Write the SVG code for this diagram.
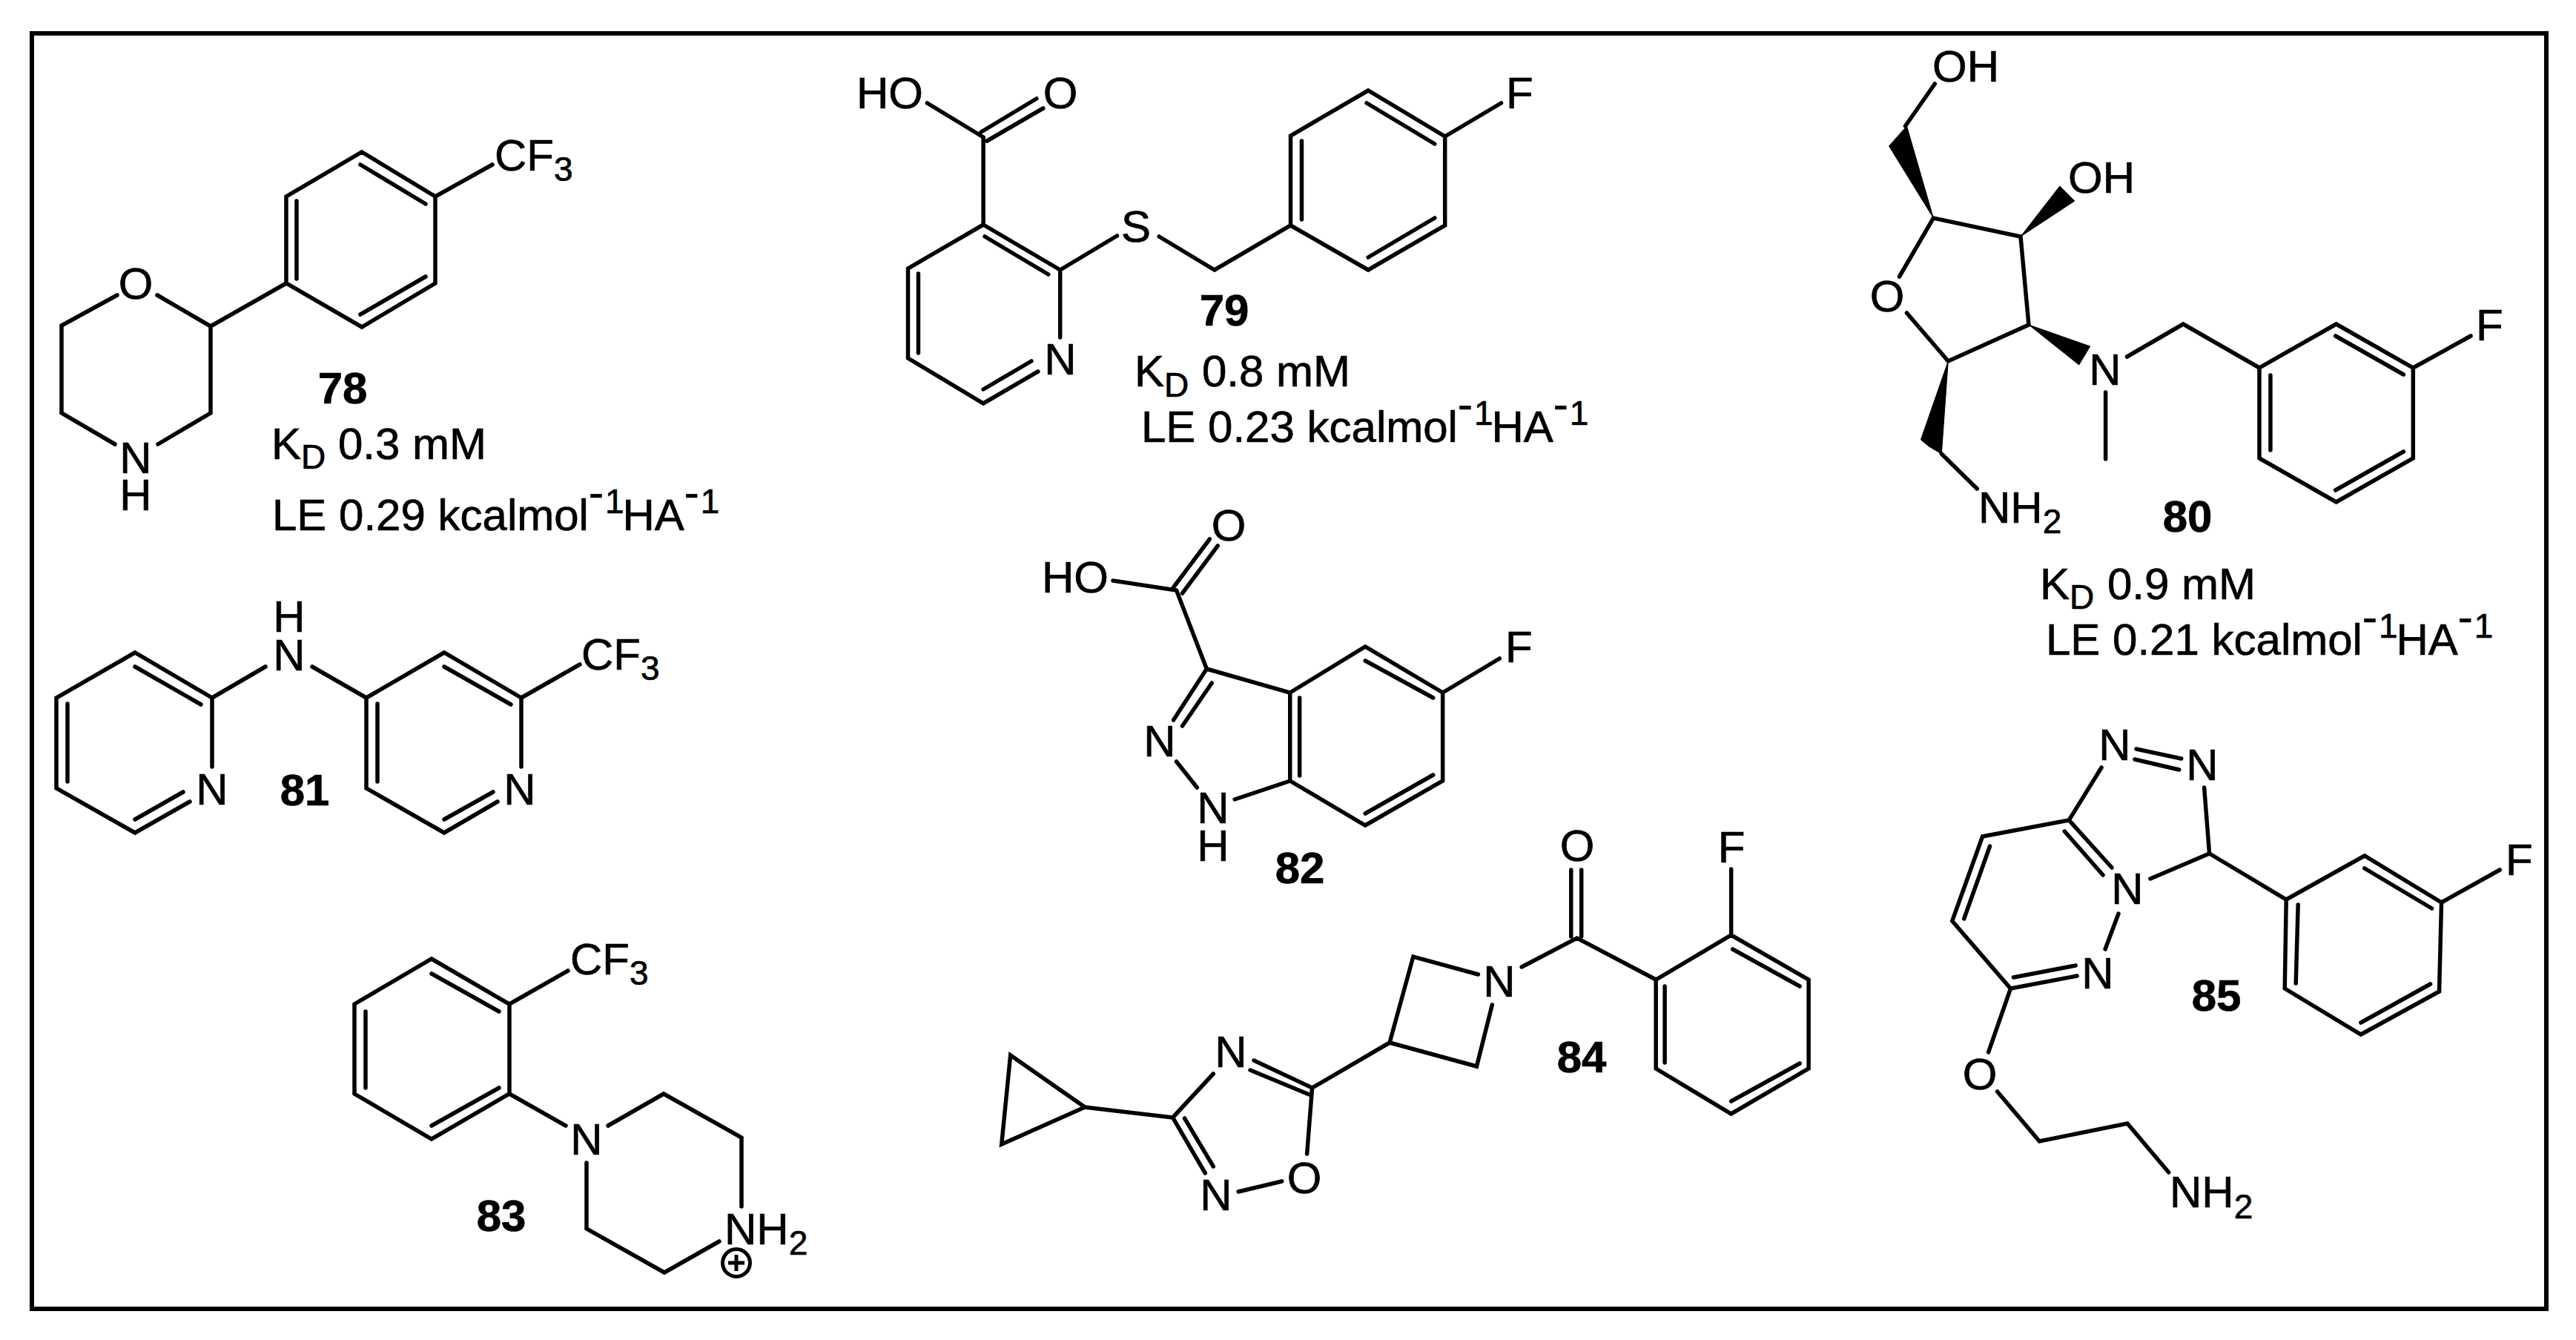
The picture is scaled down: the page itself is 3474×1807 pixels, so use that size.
<svg xmlns="http://www.w3.org/2000/svg" width="3474" height="1807" viewBox="0 0 3474 1807">
<style>
text{font-family:"Liberation Sans",Arial,sans-serif;font-size:60px;fill:#000;stroke:#000;stroke-width:.7}
.a{text-anchor:middle}
.n{font-weight:bold;text-anchor:middle}
.s{font-size:46px}
.b{fill:none;stroke:#000;stroke-width:5.5;stroke-linecap:round;stroke-linejoin:miter}
.w{fill:#000;stroke:#000;stroke-width:1}
</style>
<rect width="3474" height="1807" fill="#fff"/>
<rect x="43" y="45" width="3391" height="1720" fill="none" stroke="#000" stroke-width="6"/>

<g id="compound-78">
<path class="b" d="M488 205L587 265L587 382L488 441L386 382L386 265ZM486 222L574 275M400 271L400 376M486 424L574 373M587 265L664 222M386 382L284 440L212 398M158 398L83 439L83 557L155 599M284 440L284 557L213 599"/>
<text x="667" y="230">CF<tspan class="s" dy="14">3</tspan></text>
<text class="a" x="183" y="403">O</text>
<text class="a" x="183" y="638">N<tspan x="183" dy="50">H</tspan></text>
<text class="n" x="462" y="544">78</text>
<text x="366" y="619">K<tspan class="s" dy="13">D</tspan></text><text x="456" y="619">0.3 mM</text>
<text x="367" y="715">LE 0.29 kcalmol<tspan dy="-31">-</tspan><tspan class="s" dx="2" dy="8">1</tspan><tspan dx="-2" dy="23">HA</tspan><tspan dy="-31">-</tspan><tspan class="s" dx="2" dy="8">1</tspan></text>
</g>

<g id="compound-79">
<path class="b" transform="matrix(.99614 0 0 1 4.25 0)" d="M1251 139L1327 185M1324 178L1399 133M1332 190L1408 146M1327 185L1327 303L1431 364L1431 455M1327 303L1225 362L1225 483L1327 544L1401 501M1327 525L1392 487M1239 369L1239 476M1329 319L1415 370M1431 364L1508 318M1565 319L1640 364L1743 304L1743 183L1848 122L1952 184L1952 304L1848 364L1743 304M1758 190L1758 296M1846 139L1938 194M1938 294L1848 347M1952 184L2028 139"/>
<text x="1155" y="146">HO</text>
<text class="a" x="1430" y="146">O</text>
<text class="a" x="1430" y="505">N</text>
<text class="a" x="1532" y="326">S</text>
<text x="2031" y="146">F</text>
<text class="n" x="1651" y="439">79</text>
<text x="1530" y="521">K<tspan class="s" dy="14">D</tspan></text><text x="1621" y="521">0.8 mM</text>
<text x="1539" y="596">LE 0.23 kcalmol<tspan dy="-31">-</tspan><tspan class="s" dx="2" dy="8">1</tspan><tspan dx="-2" dy="23">HA</tspan><tspan dy="-31">-</tspan><tspan class="s" dx="2" dy="8">1</tspan></text>
</g>

<g id="compound-80">
<g transform="matrix(.99688 0 0 1 7.49 0)">
<polygon class="w" points="2608,294 2572,170 2548,197"/>
<polygon class="w" points="2726,319 2779,251 2799,271"/>
<polygon class="w" points="2737,438 2820,467 2805,492"/>
<polygon class="w" points="2628,487 2591,593 2602,602 2619,612"/>
<path class="b" d="M2610 113L2570 170M2562 373L2608 294L2726 319L2737 438L2628 487L2572 422M2619 612L2667 659M2841 529L2841 619M2870 481L2946 437L3049 496L3153 437L3257 496L3257 618L3153 677L3049 618L3049 496M3152 453L3244 505M3064 506L3064 607M3244 609L3152 661M3257 496L3335 453"/>
</g>
<text x="2606" y="110">OH</text>
<text x="2789" y="260">OH</text>
<text class="a" x="2545" y="420">O</text>
<text class="a" x="2839" y="519">N</text>
<text x="3339" y="459">F</text>
<text x="2668" y="705">NH<tspan class="s" dy="14">2</tspan></text>
<text class="n" x="2950" y="717">80</text>
<text x="2751" y="808">K<tspan class="s" dy="13">D</tspan></text><text x="2842" y="808">0.9 mM</text>
<text x="2759" y="883">LE 0.21 kcalmol<tspan dy="-31">-</tspan><tspan class="s" dx="2" dy="8">1</tspan><tspan dx="-2" dy="23">HA</tspan><tspan dy="-31">-</tspan><tspan class="s" dx="2" dy="8">1</tspan></text>
</g>

<g id="compound-81">
<path class="b" d="M286 941L182 880L76 941L76 1063L182 1123L256 1081M182 1105L247 1068M286 941L286 1034M182 899L271 950M91 949L91 1054M286 941L358 899M421 899L494 941L599 880L703 941L703 1034M494 941L494 1063L599 1123L671 1081M599 1105L665 1068M599 899L689 950M509 949L509 1054M703 941L782 896"/>
<text class="a" x="286" y="1085">N</text>
<text class="a" x="390" y="852">H<tspan x="390" dy="52">N</tspan></text>
<text class="a" x="701" y="1085">N</text>
<text x="784" y="903">CF<tspan class="s" dy="14">3</tspan></text>
<text class="n" x="411" y="1086">81</text>
</g>

<g id="compound-82">
<path class="b" transform="matrix(.99487 0 0 1 6.67 0)" d="M1502 783L1588 796M1584 792L1633 727M1596 800L1644 736M1588 796L1629 902L1584 971M1636 921L1596 979M1588 1027L1616 1062M1667 1078L1742 1053L1742 934L1629 902M1755 941L1755 1046M1742 934L1844 872L1949 934L1949 1053L1844 1113L1742 1053M1844 891L1936 941M1936 1045L1844 1097M1949 934L2026 888"/>
<text class="a" x="1657" y="729">O</text>
<text x="1405" y="799">HO</text>
<text class="a" x="1564" y="1020">N</text>
<text class="a" x="1636" y="1110">N<tspan x="1636" dy="51">H</tspan></text>
<text x="2030" y="893">F</text>
<text class="n" x="1753" y="1191">82</text>
</g>

<g id="compound-83">
<path class="b" d="M582 1293L687 1354L687 1475L582 1536L478 1475L478 1354ZM582 1313L673 1364M493 1364L493 1467M582 1518L673 1467M687 1354L766 1309M687 1475L763 1518M820 1518L895 1475L1000 1534L1000 1627M791 1568L791 1657L896 1716L970 1674"/>
<text x="769" y="1314">CF<tspan class="s" dy="14">3</tspan></text>
<text class="a" x="791" y="1557">N</text>
<text x="977" y="1678">NH<tspan class="s" dy="14">2</tspan></text>
<circle cx="993" cy="1703" r="18.5" fill="none" stroke="#000" stroke-width="5"/>
<path d="M982 1703H1004M993 1692V1714" fill="none" stroke="#000" stroke-width="5"/>
<text class="n" x="676" y="1660">83</text>
</g>

<g id="compound-84">
<path class="b" transform="matrix(.99487 0 0 1 6.67 0)" d="M2123 1173L2123 1263M2137 1173L2137 1263M2056 1304L2131 1265L2238 1321L2340 1261L2445 1321L2445 1441L2340 1502L2238 1441L2238 1321M2342 1280L2433 1330M2433 1434L2340 1485M2250 1330L2250 1433M2340 1172L2340 1261M1997 1314L1909 1290L1877 1406L1995 1438L2016 1355M1877 1406L1772 1467L1693 1430M1768 1476L1688 1443M1638 1448L1583 1507L1627 1582M1599 1508L1638 1573M1672 1607L1731 1593M1765 1556L1772 1467M1583 1507L1464 1493L1363 1423L1351 1543L1464 1493"/>
<text class="a" x="2127" y="1161">O</text>
<text class="a" x="2335" y="1163">F</text>
<text class="a" x="2022" y="1344">N</text>
<text class="a" x="1660" y="1439">N</text>
<text class="a" x="1640" y="1632">N</text>
<text class="a" x="1759" y="1609">O</text>
<text class="n" x="2133" y="1446">84</text>
</g>

<g id="compound-85">
<path class="b" transform="matrix(.99663 0 0 1 8.63 0)" d="M2882 1010L2943 1023M2880 1024L2940 1038M2835 1035L2791 1106L2674 1128L2633 1242L2712 1333L2802 1316M2684 1141L2649 1239M2716 1318L2800 1302M2791 1106L2849 1170M2785 1121L2837 1180M2858 1232L2840 1280M2901 1185L2981 1151L2974 1062M2981 1151L3085 1213L3191 1154L3295 1217L3292 1337L3186 1395L3083 1333L3085 1213M3191 1171L3282 1225M3101 1220L3098 1326M3280 1327L3186 1379M3295 1217L3374 1173M2712 1333L2682 1419M2694 1472L2751 1539L2870 1515L2926 1581"/>
<text class="a" x="2852" y="1025">N</text>
<text class="a" x="2970" y="1052">N</text>
<text class="a" x="2829" y="1333">N</text>
<text class="a" x="2869" y="1219">N</text>
<text class="a" x="2670" y="1469">O</text>
<text x="3379" y="1180">F</text>
<text x="2926" y="1628">NH<tspan class="s" dy="15">2</tspan></text>
<text class="n" x="2989" y="1363">85</text>
</g>
</svg>
